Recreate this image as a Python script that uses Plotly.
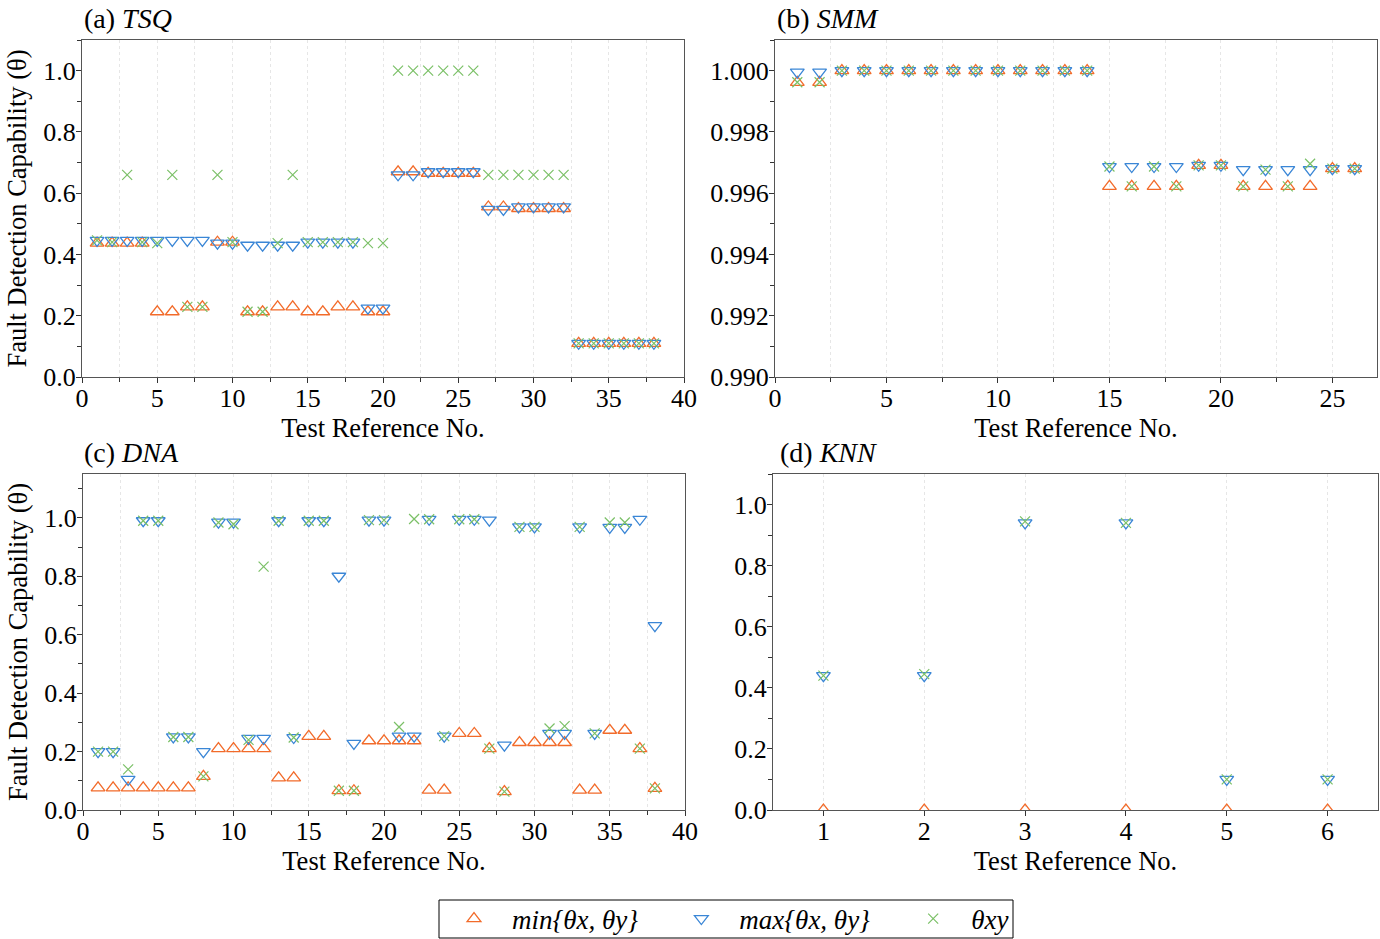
import plotly.graph_objects as go

# ---------------- data ----------------
tsq_x = list(range(1, 39))
tsq_min = [0.437, 0.437, 0.437, 0.437, 0.213, 0.213, 0.229, 0.229, 0.44, 0.44,
           0.213, 0.213, 0.229, 0.229, 0.213, 0.213, 0.229, 0.229, 0.213, 0.213,
           0.67, 0.67, 0.665, 0.665, 0.665, 0.665, 0.555, 0.555, 0.55, 0.55,
           0.55, 0.55, 0.11, 0.11, 0.11, 0.11, 0.11, 0.11]
tsq_max = [0.446, 0.446, 0.446, 0.446, 0.446, 0.446, 0.446, 0.446, 0.437, 0.437,
           0.43, 0.43, 0.43, 0.43, 0.44, 0.44, 0.44, 0.44, 0.225, 0.225,
           0.66, 0.66, 0.67, 0.67, 0.67, 0.67, 0.547, 0.547, 0.555, 0.555,
           0.555, 0.555, 0.11, 0.11, 0.11, 0.11, 0.11, 0.11]
tsq_xy = [0.446, 0.44, 0.66, 0.44, 0.437, 0.66, 0.229, 0.229, 0.66, 0.44,
          0.213, 0.213, 0.437, 0.66, 0.44, 0.44, 0.44, 0.44, 0.437, 0.437,
          1.0, 1.0, 1.0, 1.0, 1.0, 1.0, 0.66, 0.66, 0.66, 0.66,
          0.66, 0.66, 0.11, 0.11, 0.11, 0.11, 0.11, 0.11]

smm_x = list(range(1, 27))
smm_min = [0.99962, 0.99962] + [1.0] * 12 + [0.99622] * 4 + [0.99691, 0.99691] + [0.99622] * 4 + [0.9968, 0.9968]
smm_max = [0.99995, 0.99995] + [1.0] * 12 + [0.99687] * 4 + [0.99691, 0.99691] + [0.99677] * 4 + [0.9968, 0.9968]
smm_xy = [0.99962, 0.99962] + [1.0] * 12 + [0.99687, 0.99622, 0.99687, 0.99622, 0.99691, 0.99691,
                                            0.99622, 0.99677, 0.99622, 0.99696, 0.9968, 0.9968]

dna_x = list(range(1, 39))
dna_min = [0.076, 0.076, 0.076, 0.076, 0.076, 0.076, 0.076, 0.115, 0.21, 0.21,
           0.21, 0.21, 0.11, 0.11, 0.252, 0.252, 0.066, 0.066, 0.237, 0.237,
           0.237, 0.237, 0.068, 0.068, 0.262, 0.262, 0.21, 0.063, 0.231, 0.231,
           0.231, 0.231, 0.068, 0.068, 0.273, 0.273, 0.21, 0.074]
dna_max = [0.20, 0.20, 0.105, 0.99, 0.99, 0.25, 0.25, 0.20, 0.985, 0.985,
           0.245, 0.245, 0.99, 0.248, 0.99, 0.99, 0.80, 0.228, 0.992, 0.992,
           0.253, 0.253, 0.995, 0.253, 0.995, 0.995, 0.992, 0.222, 0.969, 0.969,
           0.262, 0.262, 0.969, 0.262, 0.967, 0.967, 0.995, 0.631]
dna_xy = [0.20, 0.20, 0.139, 0.99, 0.99, 0.25, 0.25, 0.115, 0.984, 0.978,
          0.24, 0.833, 0.99, 0.248, 0.99, 0.99, 0.066, 0.066, 0.992, 0.992,
          0.284, 0.996, 0.995, 0.253, 0.995, 0.995, 0.21, 0.063, 0.969, 0.969,
          0.279, 0.287, 0.969, 0.262, 0.984, 0.984, 0.21, 0.074]

knn_x = [1, 2, 3, 4, 5, 6]
knn_min = [0.0, 0.0, 0.0, 0.0, 0.0, 0.0]
knn_max = [0.44, 0.44, 0.94, 0.94, 0.10, 0.10]
knn_xy = [0.44, 0.445, 0.945, 0.94, 0.10, 0.10]

PAD = "&nbsp;" * 3
series_names = ["<i>min{θx, θy}</i>" + PAD, "<i>max{θx, θy}</i>" + PAD, "<i>θxy</i>"]
panel_titles = ["(a) <i>TSQ</i>", "(b) <i>SMM</i>", "(c) <i>DNA</i>", "(d) <i>KNN</i>"]

# ---------------- style ----------------
FONT = "Liberation Serif"
FS_TICK = 26
FS_AXT = 26.5
FS_TITLE = 28
FS_LEG = 27
C_MIN, C_MAX, C_XY = "#F26B2A", "#3A86D6", "#7BC067"
W, H = 1380, 939


def px2x(p):
    return p / W


def px2y(p):
    return 1 - p / H


dom = {
    1: ([px2x(82), px2x(684)], [px2y(377), px2y(40)]),
    2: ([px2x(775), px2x(1377)], [px2y(377), px2y(40)]),
    3: ([px2x(83), px2x(685)], [px2y(810), px2y(474)]),
    4: ([px2x(773), px2x(1378)], [px2y(810), px2y(474)]),
}

fig = go.Figure()

panels = [
    (tsq_x, tsq_min, tsq_max, tsq_xy),
    (smm_x, smm_min, smm_max, smm_xy),
    (dna_x, dna_min, dna_max, dna_xy),
    (knn_x, knn_min, knn_max, knn_xy),
]

for i, (xs, mn, mx, xy) in enumerate(panels, start=1):
    xa = "x" if i == 1 else f"x{i}"
    ya = "y" if i == 1 else f"y{i}"
    show = (i == 1)
    fig.add_trace(go.Scatter(x=xs, y=mn, mode="markers", name=series_names[0],
                             marker=dict(symbol="triangle-up-open", size=12, color=C_MIN,
                                         line=dict(width=1.3, color=C_MIN)),
                             xaxis=xa, yaxis=ya, showlegend=show, legendgroup="a"))
    fig.add_trace(go.Scatter(x=xs, y=mx, mode="markers", name=series_names[1],
                             marker=dict(symbol="triangle-down-open", size=12, color=C_MAX,
                                         line=dict(width=1.3, color=C_MAX)),
                             xaxis=xa, yaxis=ya, showlegend=show, legendgroup="b"))
    fig.add_trace(go.Scatter(x=xs, y=xy, mode="markers", name=series_names[2],
                             marker=dict(symbol="x-thin-open", size=10, color=C_XY,
                                         line=dict(width=1.2, color=C_XY)),
                             xaxis=xa, yaxis=ya, showlegend=show, legendgroup="c"))

axis_common = dict(showline=True, mirror=True, linecolor="#555", linewidth=1.2,
                   ticks="outside", ticklen=5, tickcolor="#333", tickwidth=1,
                   zeroline=False, automargin=False,
                   tickfont=dict(family=FONT, size=FS_TICK, color="black"))

xtitle = dict(text="Test Reference No.", font=dict(family=FONT, size=FS_AXT, color="black"))
ytitle = dict(text="Fault Detection Capability (θ)", font=dict(family=FONT, size=FS_AXT, color="black"))

GRIDC = "#e6e6e6"
grid = dict(showgrid=True, gridcolor=GRIDC, griddash="dot", gridwidth=1)
minor_x = dict(dtick=2.5, ticks="outside", ticklen=4, tickcolor="#333",
               showgrid=True, gridcolor=GRIDC, griddash="dot")

layout_axes = {}
for i in range(1, 5):
    key = "xaxis" if i == 1 else f"xaxis{i}"
    yref = "y" if i == 1 else f"y{i}"
    d = dict(axis_common, domain=dom[i][0], anchor=yref, ticklabelstandoff=-7,
             title=dict(xtitle, standoff=2), **grid)
    if i in (1, 3):
        d.update(range=[0, 40], dtick=5, tick0=0, minor=minor_x)
    elif i == 2:
        d.update(range=[0, 27], dtick=5, tick0=0, minor=minor_x)
    else:
        d.update(range=[0.5, 6.5], dtick=1, tick0=0)
    layout_axes[key] = d

for i in range(1, 5):
    key = "yaxis" if i == 1 else f"yaxis{i}"
    xref = "x" if i == 1 else f"x{i}"
    d = dict(axis_common, domain=dom[i][1], anchor=xref, showgrid=False, ticklabelstandoff=-5)
    minor_y = dict(ticks="outside", ticklen=4, tickcolor="#333")
    if i == 2:
        d.update(range=[0.990, 1.001], dtick=0.002, tick0=0.990, tickformat=".3f",
                 minor=dict(minor_y, dtick=0.001))
    elif i == 3:
        d.update(range=[0, 1.15], dtick=0.2, tick0=0, tickformat=".1f",
                 minor=dict(minor_y, dtick=0.1))
    else:
        d.update(range=[0, 1.1], dtick=0.2, tick0=0, tickformat=".1f",
                 minor=dict(minor_y, dtick=0.1))
    if i in (1, 3):
        d.update(title=dict(ytitle, standoff=8))
    layout_axes[key] = d

annotations = []
title_pos = [(82, 18), (775, 18), (82, 452), (778, 452)]
for t, (xp, yp) in zip(panel_titles, title_pos):
    annotations.append(dict(text=t, x=px2x(xp), y=px2y(yp), xref="paper", yref="paper",
                            xanchor="left", yanchor="middle", showarrow=False,
                            font=dict(family=FONT, size=FS_TITLE, color="black")))

shapes = [dict(type="rect", xref="paper", yref="paper",
               x0=px2x(439), x1=px2x(1013), y0=px2y(938), y1=px2y(900),
               line=dict(color="black", width=1), fillcolor="rgba(0,0,0,0)")]

fig.update_layout(
    width=W, height=H,
    margin=dict(l=0, r=0, t=0, b=0, autoexpand=False),
    paper_bgcolor="white", plot_bgcolor="white",
    font=dict(family=FONT, size=FS_TICK, color="black"),
    annotations=annotations,
    shapes=shapes,
    legend=dict(orientation="h", x=px2x(436), xanchor="left", y=px2y(919), yanchor="middle",
                borderwidth=0, bgcolor="rgba(0,0,0,0)", itemwidth=66,
                font=dict(family=FONT, size=FS_LEG, color="black")),
    **layout_axes,
)

fig.write_html("out.html", config={"displayModeBar": False},
               post_script=["document.body.style.margin='0';document.body.style.overflow='hidden';"])
